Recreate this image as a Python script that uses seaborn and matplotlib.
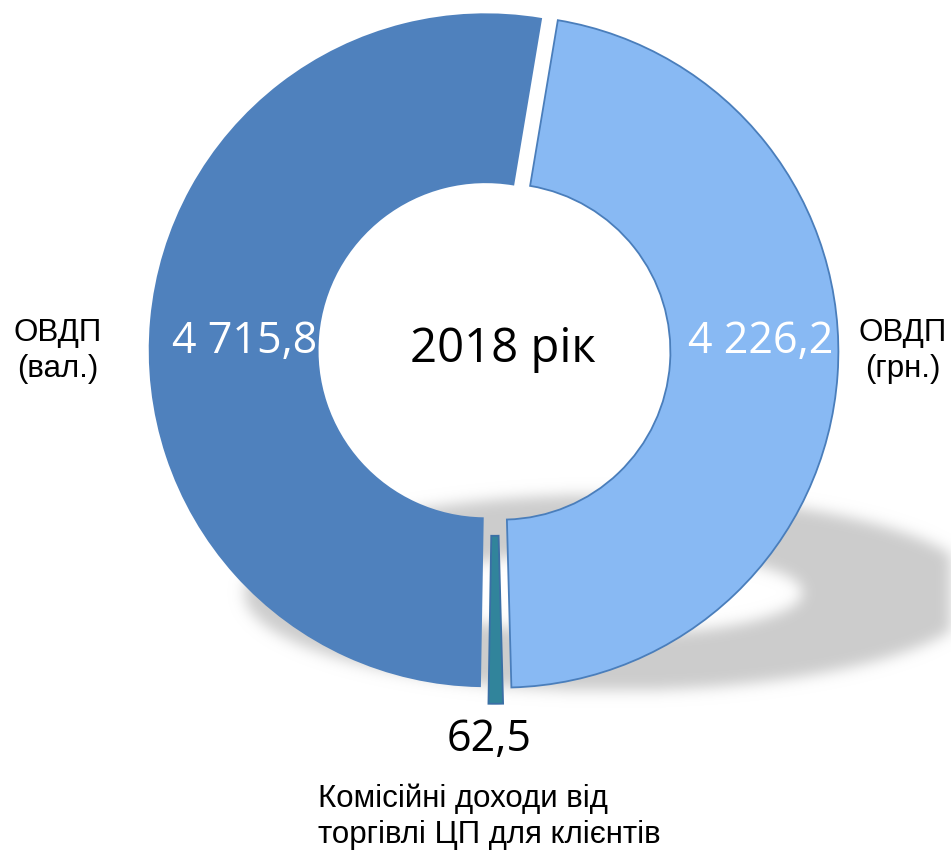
import numpy as np
import matplotlib
matplotlib.use("Agg")
import matplotlib.pyplot as plt
import seaborn as sns

# Income structure from government bond operations, 2018 (UAH thousand)
categories = ["ОВДП\n(грн.)", "Комісійні доходи від\nторгівлі ЦП для клієнтів", "ОВДП\n(вал.)"]
values = [4226.2, 62.5, 4715.8]
year_label = "2018 рік"

colors = ["#88b9f3", "#31849b", "#4f81bd"]
edges = ["#4a7ebb", "#3a6fa5", "#4f81bd"]
explode = [0.025, 0.05, 0.025]

sns.set_style("white")
plt.rcParams["font.family"] = ["Open Sans", "DejaVu Sans"]
plt.rcParams["text.color"] = "black"

W, H, DPI = 951, 852, 100
fig = plt.figure(figsize=(W / DPI, H / DPI), dpi=DPI)

# soft drop shadow under the ring
bg = fig.add_axes([0, 0, 1, 1])
bg.set_axis_off()
yy, xx = np.mgrid[0:H, 0:W].astype(float)
cx_s, cy_s = 612.0, 592.0
outer = ((xx - cx_s) / 368.0) ** 2 + ((yy - cy_s) / 98.0) ** 2 <= 1.0
inner = ((xx - cx_s) / 190.0) ** 2 + ((yy - cy_s) / 42.0) ** 2 <= 1.0
mask = (outer & ~inner).astype(float)


def gauss_blur(a, sigma):
    r = int(3 * sigma)
    k = np.exp(-0.5 * (np.arange(-r, r + 1) / sigma) ** 2)
    k /= k.sum()
    a = np.apply_along_axis(lambda m: np.convolve(m, k, mode="same"), 1, a)
    a = np.apply_along_axis(lambda m: np.convolve(m, k, mode="same"), 0, a)
    return a


shadow = gauss_blur(mask, 7.0)
rgba = np.zeros((H, W, 4))
rgba[..., :3] = 0.80
rgba[..., 3] = np.clip(shadow, 0, 1)
bg.imshow(rgba, extent=(0, W, H, 0), aspect="auto", interpolation="bilinear")
bg.set_xlim(0, W)
bg.set_ylim(H, 0)

# donut chart: one data unit = ring outer radius
R_PX = 336.0
CX, CY = 494.0, 351.0
ax = fig.add_axes([0, 0, 1, 1])
ax.set_axis_off()
ax.patch.set_alpha(0)
wedges, _ = ax.pie(
    values,
    colors=colors,
    explode=explode,
    startangle=80.5,
    counterclock=False,
    radius=1.0,
    wedgeprops=dict(width=0.5, linewidth=1.3),
)
for w, ec in zip(wedges, edges):
    w.set_edgecolor(ec)
ax.set_xlim(-CX / R_PX, (W - CX) / R_PX)
ax.set_ylim((CY - H) / R_PX, CY / R_PX)
ax.set_aspect("auto")


def fmt(v):
    return f"{v:,.1f}".replace(",", " ").replace(".", ",")


def px(x, y):
    return (x - CX) / R_PX, (CY - y) / R_PX


ax.text(*px(503, 349), year_label, ha="center", va="center", fontsize=34, color="black")
ax.text(*px(245, 342), fmt(values[2]), ha="center", va="center", fontsize=31, color="white")
ax.text(*px(761, 342), fmt(values[0]), ha="center", va="center", fontsize=31, color="white")
ax.text(*px(489, 740), fmt(values[1]), ha="center", va="center", fontsize=31, color="black")

arial = ["Liberation Sans", "DejaVu Sans"]
ax.text(*px(58, 351), categories[2], ha="center", va="center", fontsize=22.5,
        family=arial, linespacing=1.25, color="black")
ax.text(*px(903, 351), categories[0], ha="center", va="center", fontsize=22.5,
        family=arial, linespacing=1.25, color="black")
ax.text(*px(318, 817), categories[1], ha="left", va="center", fontsize=22.5,
        family=arial, linespacing=1.25, color="black")

fig.savefig("out.png", dpi=DPI, facecolor="white")
